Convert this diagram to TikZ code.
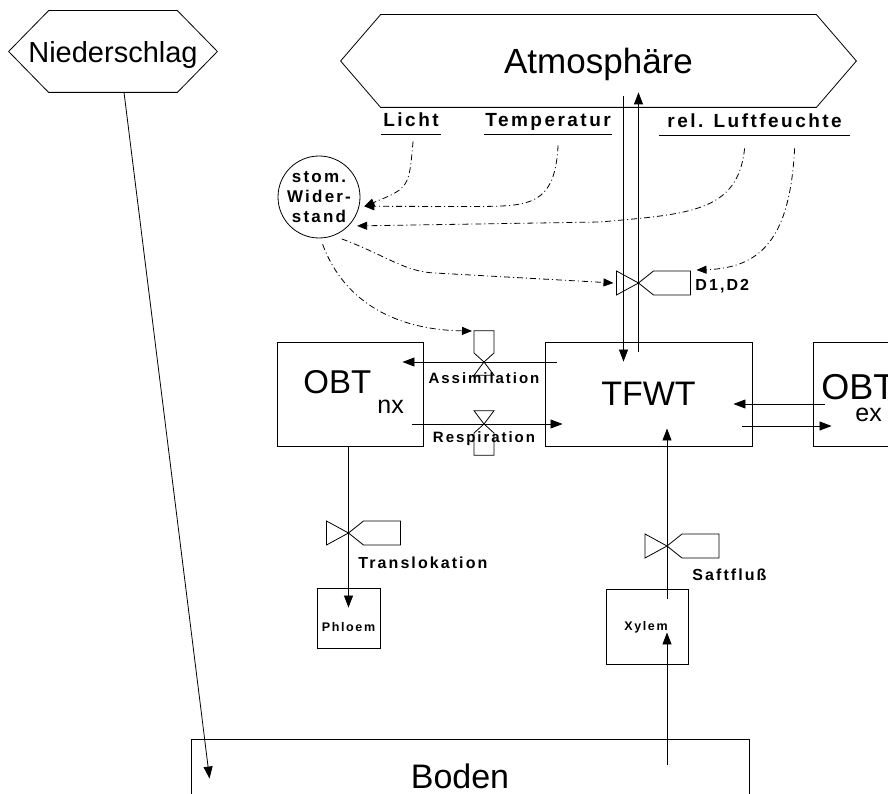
\documentclass[tikz,border=0pt]{standalone}
\usepackage{fontspec}
\setmainfont{Liberation Sans}
\newfontfamily\lblfont[LetterSpace=13]{Liberation Sans}
\usetikzlibrary{arrows.meta}

\tikzset{
  big/.style={font=\fontsize{#1}{#1}\selectfont, inner sep=0pt},
  lbl/.style={font=\fontsize{#1}{#1}\lblfont\bfseries, inner sep=0pt},
  hexa/.style={big=#1, text depth=0pt},
  box/.style={draw, line width=0.9pt, inner sep=0pt},
  flow/.style={-{Triangle[length=12pt,width=9pt]}},
  infl/.style={dash pattern=on 6pt off 3pt on 1pt off 3pt, -{Triangle[length=10pt,width=8pt]}},
  valve/.pic={
    \draw (0,0) -- (-22,-12) -- (-22,12) -- cycle;
    \draw (0,0) -- (15,-12) -- (52,-12) -- (52,12) -- (15,12) -- cycle;
  }
}

\begin{document}
\begin{tikzpicture}[x=1pt, y=-1pt, line width=0.8pt]
	\useasboundingbox (0,0) rectangle (888,794);
	\clip (0,0) rectangle (888,794);

	% sources and sinks
	\node[hexa=29, minimum width=208, minimum height=81] (nied) at (113,51.5) {Niederschlag};
	\node[hexa=35, minimum width=515, minimum height=92] (atm) at (598.5,61) {Atmosphäre};
	\foreach \h in {nied,atm}
		\draw (\h.west) -- ([xshift=40pt]\h.north west) -- ([xshift=-40pt]\h.north east)
			-- (\h.east) -- ([xshift=-40pt]\h.south east) -- ([xshift=40pt]\h.south west) -- cycle;

	% compartments
	\node[box, minimum width=146, minimum height=104] (obtnx) at (350,394) {};
	\node[box, big=34, minimum width=207, minimum height=104] (tfwt) at (648.5,394) {TFWT};
	\node[box, minimum width=150, minimum height=104] (obtex) at (888,394) {};
	\node[box, minimum width=63, minimum height=60] (phloem) at (348.5,618) {};
	\node[box, minimum width=82, minimum height=75] (xylem) at (647,626.5) {};
	\node[box, minimum width=558, minimum height=111] (boden) at (470,794.5) {};
	\node[big=33, anchor=base west] (obtnxa) at (303,393) {OBT};
	\node[big=25, anchor=base west] (obtnxb) at (377,413) {nx};
	\node[big=36, anchor=base west] (obtexa) at (821,399) {OBT};
	\node[big=25, anchor=base west] (obtexb) at (855,421) {ex};
	\node[big=34, anchor=base] (bodena) at (460,788) {Boden};
	\node[lbl=12.5, anchor=base] (phloema) at (348.5,631) {Phloem};
	\node[lbl=12.5, anchor=base] (xylema) at (646,630) {Xylem};

	% driving variables
	\node[lbl=19, text depth=0pt, anchor=base west] (licht) at (383,127) {Licht};
	\node[lbl=19, text depth=0pt, anchor=base west] (temp) at (485,127) {Temperatur};
	\node[lbl=19, text depth=0pt, anchor=base west] (feucht) at (667,128) {rel. Luftfeuchte};
	\foreach \n/\e in {licht/2pt, temp/1pt, feucht/8pt}
		\draw ([shift={(-\e,-7pt)}]\n.south west) -- ([shift={(\e,-7pt)}]\n.south east);
	\node[draw, circle, lbl=17, align=center, minimum size=82] (stom) at (319,197)
		{stom.\\[3pt]Wider-\\[3pt]stand};

	% valves
	\coordinate (d12) at (638.5,283);
	\coordinate (assv) at (484,362);
	\coordinate (resv) at (484,424);
	\coordinate (trav) at (348.5,533);
	\coordinate (safv) at (667,546);
	\pic at (d12) {valve};
	\pic[rotate=90, xscale=0.6, yscale=0.83] at (assv) {valve};
	\pic[rotate=-90, xscale=0.6, yscale=0.83] at (resv) {valve};
	\pic at (trav) {valve};
	\pic at (safv) {valve};
	\node[lbl=16, anchor=base west] (d12a) at (695,290) {D1,D2};
	\node[lbl=15, anchor=base] (assa) at (484,383) {Assimilation};
	\node[lbl=15, anchor=base] (resa) at (484,442) {Respiration};
	\node[lbl=16, anchor=base west] (traa) at (358,568) {Translokation};
	\node[lbl=16, anchor=base west] (safa) at (692,580) {Saftfluß};

	% water and carbon flows
	\draw[flow] ([xshift=11pt]nied.south) -- ([shift={(19pt,-40pt)}]boden.north west);
	\draw[flow] ([shift={(25pt,11pt)}]atm.south) -- ([shift={(-25pt,-20pt)}]tfwt.north);
	\draw[flow] ([shift={(-10pt,-10pt)}]tfwt.north) -- ([shift={(40pt,15pt)}]atm.south);
	\draw[flow] ([shift={(12pt,32pt)}]tfwt.west) -- ([shift={(-21pt,32pt)}]obtnx.east);
	\draw[flow] ([shift={(-11pt,-30pt)}]obtnx.east) -- ([shift={(18pt,-30pt)}]tfwt.west);
	\draw[flow] ([shift={(12pt,-10pt)}]obtex.west) -- ([shift={(-19pt,-10pt)}]tfwt.east);
	\draw[flow] ([shift={(-10pt,-32pt)}]tfwt.east) -- ([shift={(19pt,-32pt)}]obtex.west);
	\draw[flow] (obtnx.south -| phloem.north) -- ([yshift=-20pt]phloem.north);
	\draw[flow] ([shift={(20pt,-10pt)}]xylem.north) -- ([shift={(18.5pt,18pt)}]tfwt.south);
	\draw[flow] ([shift={(197pt,-26pt)}]boden.north) -- ([shift={(20pt,32pt)}]xylem.south);

	% influences
	\draw[infl] ([shift={(2pt,-14pt)}]licht.south) .. controls (409,188) .. ([xshift=5pt]stom.-13);
	\draw[infl] ([shift={(10pt,-18pt)}]temp.south) .. controls (555,205) and (530,206) .. (480,206.5)
		-- ([xshift=5pt]stom.-13);
	\draw[infl] ([shift={(-10pt,-20pt)}]feucht.south) .. controls (738,212) and (690,214) .. (600,222)
		-- ([shift={(5pt,-4pt)}]stom.-37);
	\draw[infl] ([shift={(40pt,-20pt)}]feucht.south) .. controls (790,240) and (760,268) .. ([shift={(58pt,13pt)}]d12);
	\draw[infl] ([shift={(-1pt,-8pt)}]stom.-55) .. controls (385,255) and (405,272) .. (435,273)
		-- ([xshift=-25pt]d12);
	\draw[infl] ([yshift=-6pt]stom.-85) .. controls (345,305) and (400,330) .. ([shift={(-12pt,31pt)}]assv);
\end{tikzpicture}
\end{document}
